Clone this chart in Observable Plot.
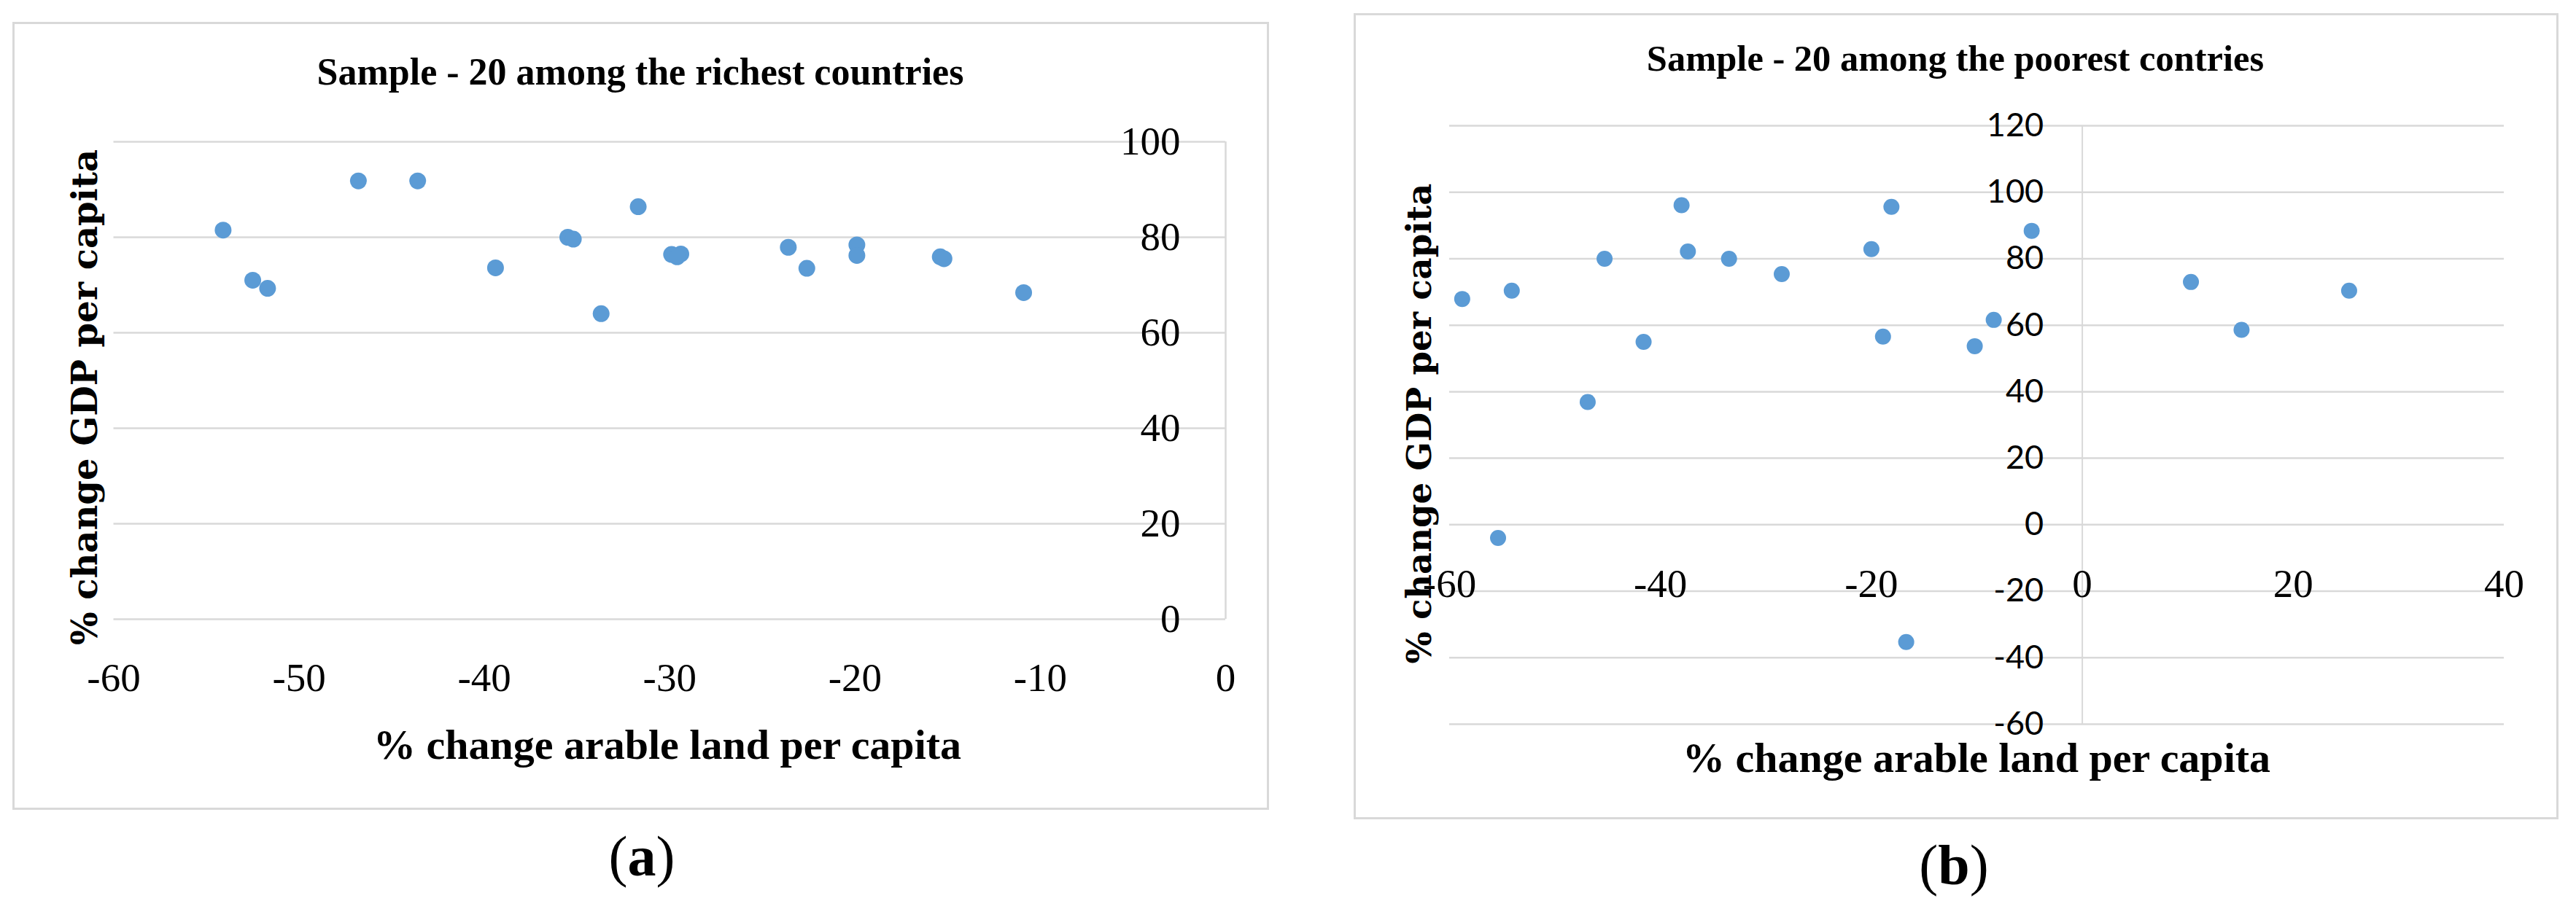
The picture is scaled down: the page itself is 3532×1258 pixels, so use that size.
<!DOCTYPE html>
<html>
<head>
<meta charset="utf-8">
<script src="https://cdn.jsdelivr.net/npm/d3@7"></script>
<script src="https://cdn.jsdelivr.net/npm/@observablehq/plot@0.6"></script>
<style>
  html, body { margin: 0; padding: 0; background: #fff; }
  #page { position: relative; width: 3532px; height: 1258px; overflow: hidden; background: #fff; }
  .frame { position: absolute; border: 3px solid #d9d9d9; box-sizing: border-box; }
  .lbl { position: absolute; white-space: nowrap; line-height: 1; color: #000; transform: translate(-50%, -50%); }
  .tight { line-height: 0.7 !important; }
  .rot { transform: translate(-50%, -50%) rotate(-90deg); }
  .plot { position: absolute; top: 0; }
  #pa text, #pb text.serif { font-family: 'Liberation Serif', 'Times New Roman', serif !important; font-size: 55px !important; }
  #pb text.sans { font-family: Lato, 'Open Sans', sans-serif !important; font-size: 45px !important; }
</style>
</head>
<body>
<div id="page"></div>
<script>
// ---------- data ----------
const richX = [-54.1, -52.5, -51.7, -46.8, -43.6, -39.4, -35.5, -35.2, -33.7, -31.7, -29.9, -29.4, -29.6, -23.6, -22.6, -19.9, -19.9, -15.4, -15.2, -10.9];
const richY = [81.5, 71.0, 69.3, 91.8, 91.8, 73.6, 80.0, 79.6, 64.0, 86.4, 76.4, 76.5, 75.9, 77.9, 73.5, 78.4, 76.2, 75.9, 75.5, 68.4];

const poorX = [-58.8, -55.4, -54.1, -46.9, -45.3, -41.6, -38.0, -37.4, -33.5, -28.5, -20.0, -18.9, -18.1, -16.7, -10.2, -8.4, -4.8, 10.3, 15.1, 25.3];
const poorY = [67.9, -4.0, 70.4, 36.9, 80.0, 55.0, 96.1, 82.2, 80.0, 75.4, 82.9, 56.6, 95.6, -35.3, 53.7, 61.6, 88.4, 73.0, 58.6, 70.4];

const richXTicks = [-60, -50, -40, -30, -20, -10, 0];
const richYTicks = [0, 20, 40, 60, 80, 100];
const poorXTicks = [-60, -40, -20, 0, 20, 40];
const poorYTicks = [-60, -40, -20, 0, 20, 40, 60, 80, 100, 120];

const titleA = "Sample - 20 among the richest countries";
const titleB = "Sample - 20 among the poorest contries";
const xTitle = "% change arable land per capita";
const yTitle = "% change GDP per capita";

// ---------- page ----------
const page = document.getElementById("page");
function box(cls, left, top, w, h) {
  const d = document.createElement("div");
  d.className = cls;
  Object.assign(d.style, {left: left + "px", top: top + "px", width: w + "px", height: h + "px"});
  page.appendChild(d);
  return d;
}
function label(text, cx, cy, font, rotate, extra) {
  const d = document.createElement("div");
  d.className = "lbl" + (rotate ? " rot" : "") + (extra ? " " + extra : "");
  d.style.left = cx + "px";
  d.style.top = cy + "px";
  d.style.font = font;
  d.textContent = text;
  page.appendChild(d);
  return d;
}
function tagText(svg, index, cls) {
  const g = svg.querySelectorAll('g[aria-label="text"]')[index];
  if (g) g.querySelectorAll("text").forEach(t => t.classList.add(cls));
}

box("frame", 17, 30, 1723, 1081);
box("frame", 1856, 18, 1652, 1106);

const blue = "#5B9BD5";
const grid = "#d9d9d9";

// Panel (a)
const rich = richX.map((x, i) => ({x, y: richY[i]}));
const plotA = Plot.plot({
  width: 1760, height: 1000,
  marginLeft: 155.5, marginRight: 80, marginTop: 194, marginBottom: 151,
  x: {domain: [-60, 0], axis: null},
  y: {domain: [0, 100], axis: null},
  style: {background: "transparent", overflow: "visible", color: "#000"},
  marks: [
    Plot.ruleY(richYTicks, {y: d => d, x1: -60, x2: 0, stroke: grid, strokeWidth: 2.5}),
    Plot.ruleX([0], {x: d => d, y1: 0, y2: 100, stroke: grid, strokeWidth: 2.5}),
    Plot.text(richYTicks, {x: 0, y: d => d, text: d => String(d), dx: -62, textAnchor: "end", fontSize: 55, fontFamily: "Liberation Serif", fill: "#000"}),
    Plot.text(richXTicks, {x: d => d, y: 0, text: d => String(d), dy: 81, fontSize: 55, fontFamily: "Liberation Serif", fill: "#000"}),
    Plot.dot(rich, {x: "x", y: "y", r: 11.5, fill: blue, stroke: null})
  ]
});
plotA.id = "pa";
plotA.classList.add("plot");
plotA.style.left = "0px";
plotA.style.position = "absolute";
page.appendChild(plotA);

// Panel (b)
const poor = poorX.map((x, i) => ({x, y: poorY[i]}));
const plotB = Plot.plot({
  width: 1752, height: 1100,
  marginLeft: 207, marginRight: 99, marginTop: 172, marginBottom: 107,
  x: {domain: [-60, 40], axis: null},
  y: {domain: [-60, 120], axis: null},
  style: {background: "transparent", overflow: "visible", color: "#000"},
  marks: [
    Plot.ruleY(poorYTicks, {y: d => d, x1: -60, x2: 40, stroke: grid, strokeWidth: 2.5}),
    Plot.ruleX([0], {x: d => d, y1: -60, y2: 120, stroke: grid, strokeWidth: 2}),
    Plot.text(poorYTicks, {x: 0, y: d => d, text: d => String(d), dx: -53, textAnchor: "end", fontSize: 45, fontFamily: "Lato", fill: "#000"}),
    Plot.text(poorXTicks, {x: d => d, y: 0, text: d => String(d), dy: 82, fontSize: 55, fontFamily: "Liberation Serif", fill: "#000"}),
    Plot.dot(poor, {x: "x", y: "y", r: 11, fill: blue, stroke: null})
  ]
});
plotB.id = "pb";
plotB.classList.add("plot");
plotB.style.left = "1780px";
plotB.style.position = "absolute";
page.appendChild(plotB);
tagText(plotB, 0, "sans");
tagText(plotB, 1, "serif");

// Titles, axis titles and captions
label(titleA, 878, 98, "bold 52px 'Liberation Serif'");
label(titleB, 2681, 80, "bold 50.5px 'Liberation Serif'");
label(xTitle, 915, 1022, "bold 58px 'Liberation Serif'", false, "tight");
label(xTitle, 2710, 1040, "bold 58px 'Liberation Serif'", false, "tight");
label(yTitle, 116, 545, "bold 48px 'DejaVu Serif'", true);
label(yTitle, 1945, 581, "bold 46.5px 'DejaVu Serif'", true);
label("(a)", 880, 1175, "78px 'Liberation Serif'").innerHTML = "(<b>a</b>)";
label("(b)", 2679, 1187, "78px 'Liberation Serif'").innerHTML = "(<b>b</b>)";
</script>
</body>
</html>
